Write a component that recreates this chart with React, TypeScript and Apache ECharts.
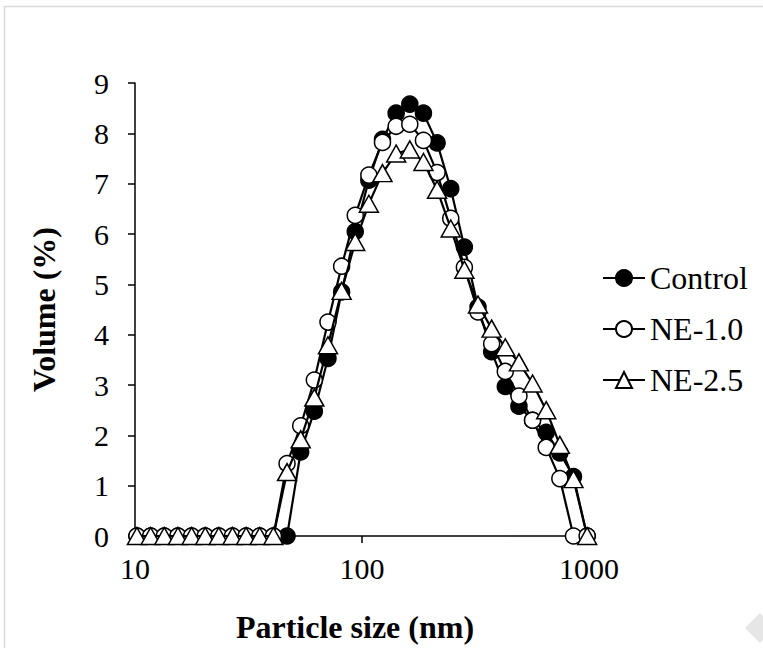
import React, { useEffect, useRef } from "react";
import * as echarts from "echarts";

const sizes = [
  10.2, 11.72, 13.46, 15.46, 17.76, 20.39, 23.4, 26.88, 30.87, 35.44, 40.71,
  46.75, 53.7, 61.66, 70.81, 81.33, 93.38, 107.2, 123.1, 141.4, 162.4, 186.5,
  214.2, 246.0, 282.5, 324.4, 372.5, 427.8, 491.3, 564.1, 647.9, 744.0, 854.4,
  981.3,
];

const control = [
  0, 0, 0, 0, 0, 0, 0, 0, 0, 0, 0, 0,
  1.67, 2.48, 3.53, 4.85, 6.05, 7.07, 7.88, 8.4, 8.58, 8.4, 7.81, 6.9, 5.74,
  4.55, 3.66, 2.97, 2.58, 2.3, 2.06, 1.65, 1.18, 0,
];

const ne10 = [
  0, 0, 0, 0, 0, 0, 0, 0, 0, 0, 0,
  1.44, 2.19, 3.1, 4.25, 5.36, 6.37, 7.17, 7.82, 8.14, 8.18, 7.86, 7.22, 6.31,
  5.34, 4.45, 3.82, 3.27, 2.78, 2.3, 1.76, 1.14, 0, 0,
];

const ne25 = [
  0, 0, 0, 0, 0, 0, 0, 0, 0, 0, 0,
  1.27, 1.92, 2.75, 3.79, 4.87, 5.84, 6.6, 7.21, 7.6, 7.68, 7.43, 6.88, 6.11,
  5.29, 4.6, 4.12, 3.75, 3.45, 3.03, 2.5, 1.81, 1.13, 0,
];

const seriesNames = ["Control", "NE-1.0", "NE-2.5"];
const xTitle = "Particle size (nm)";
const yTitle = "Volume (%)";

const FONT = "'Liberation Serif', 'Times New Roman', serif";

export default function App() {
  const ref = useRef<HTMLDivElement>(null);

  useEffect(() => {
    if (!ref.current) return;
    const chart = echarts.init(ref.current, null, { renderer: "svg" });
    const pair = (ys: number[]) => sizes.map((x, i) => [x, ys[i]]);
    const lineStyle = { color: "#000", width: 2.2 };
    chart.setOption({
      animation: false,
      backgroundColor: "#fff",
      textStyle: { fontFamily: FONT, color: "#000" },
      grid: { left: 135, right: 174, top: 83, bottom: 106, containLabel: false },
      legend: {
        orient: "vertical",
        left: 602,
        top: 262,
        padding: 0,
        itemWidth: 42,
        itemHeight: 20,
        itemGap: 19,
        data: seriesNames,
        textStyle: { fontFamily: FONT, fontSize: 32, color: "#000", lineHeight: 32 },
      },
      xAxis: {
        type: "log",
        logBase: 10,
        min: 10,
        max: 1000,
        name: xTitle,
        nameLocation: "middle",
        nameGap: 75,
        nameTextStyle: {
          fontFamily: FONT,
          fontSize: 32,
          fontWeight: "bold",
          color: "#000",
          padding: [0, 14, 0, 0],
        },
        axisLine: { lineStyle: { color: "#000", width: 1.5 } },
        axisTick: { show: true, inside: false, length: 7, lineStyle: { color: "#000", width: 1.5 } },
        minorTick: { show: false },
        splitLine: { show: false },
        axisLabel: {
          fontFamily: FONT,
          fontSize: 30,
          color: "#000",
          margin: 17,
          formatter: (v: number) => String(Math.round(v)),
        },
      },
      yAxis: {
        type: "value",
        min: 0,
        max: 9,
        interval: 1,
        name: yTitle,
        nameLocation: "middle",
        nameGap: 75,
        nameTextStyle: { fontFamily: FONT, fontSize: 32, fontWeight: "bold", color: "#000" },
        axisLine: { show: true, lineStyle: { color: "#000", width: 1.5 } },
        axisTick: { show: true, inside: false, length: 7, lineStyle: { color: "#000", width: 1.5 } },
        splitLine: { show: false },
        axisLabel: { fontFamily: FONT, fontSize: 30, color: "#000", margin: 26 },
      },
      graphic: [
        {
          type: "rect",
          z: -10,
          silent: true,
          shape: { x: 4.5, y: 6.5, width: 820, height: 700 },
          style: { fill: "none", stroke: "#d9d9d9", lineWidth: 1.5 },
        },
        {
          type: "polygon",
          z: -10,
          silent: true,
          shape: { points: [[745, 628], [760, 613], [775, 628], [760, 643]] },
          style: { fill: "#e6e6e6" },
        },
      ],
      series: [
        {
          name: seriesNames[0],
          type: "line",
          data: pair(control),
          symbol: "circle",
          symbolSize: 16,
          itemStyle: { color: "#000", borderColor: "#000", borderWidth: 1.5 },
          lineStyle,
          z: 2,
        },
        {
          name: seriesNames[1],
          type: "line",
          data: pair(ne10),
          symbol: "circle",
          symbolSize: 16,
          itemStyle: { color: "#fff", borderColor: "#000", borderWidth: 1.5 },
          lineStyle,
          z: 3,
        },
        {
          name: seriesNames[2],
          type: "line",
          data: pair(ne25),
          symbol: "triangle",
          symbolSize: [19, 17],
          itemStyle: { color: "#fff", borderColor: "#000", borderWidth: 1.5 },
          lineStyle,
          z: 4,
        },
      ],
    });
    return () => chart.dispose();
  }, []);

  return (
    <div
      ref={ref}
      style={{ position: "absolute", left: 0, top: 0, width: 763, height: 648 }}
    />
  );
}
